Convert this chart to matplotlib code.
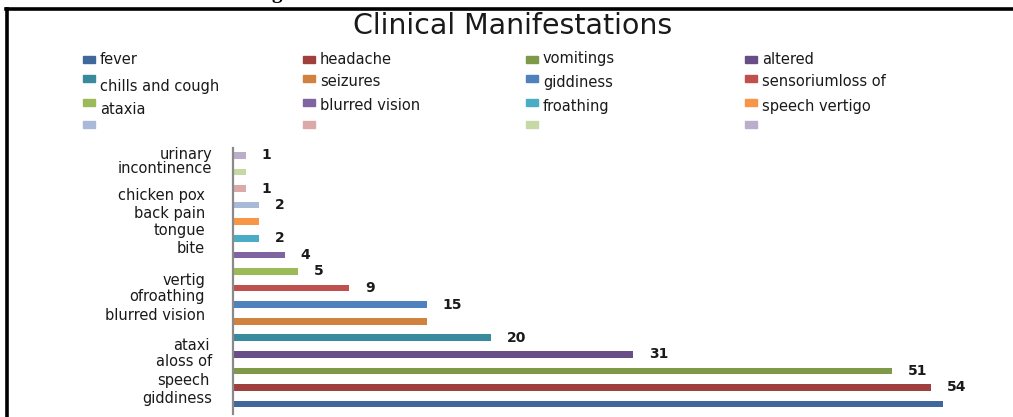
import matplotlib.pyplot as plt
from matplotlib.lines import Line2D
from matplotlib.patches import Rectangle

# symptom counts, bottom bar first
symptoms = ['fever', 'headache', 'vomitings', 'altered', 'chills and cough', 'seizures',
            'giddiness', 'sensoriumloss of', 'ataxia', 'blurred vision', 'froathing',
            'speech vertigo', '', '', '', '']
counts = [55, 54, 51, 31, 20, 15, 15, 9, 5, 4, 2, 2, 2, 1, 1, 1]
show_count = [False, True, True, True, True, False, True, True, True, True, True,
              False, True, True, False, True]
colors = ['#41689C', '#A0403E', '#7E9A48', '#674E86', '#3A8A9E', '#D1823E',
          '#4F81BD', '#C0504D', '#9BBB59', '#8064A2', '#4BACC6', '#F79646',
          '#A9B9D8', '#DBA9A8', '#C5D8A6', '#B9AECB']

# stray axis text down the left side
side_text = ['urinary', 'incontinence', 'chicken pox', 'back pain', 'tongue', 'bite',
             'vertig', 'ofroathing', 'blurred vision', 'ataxi', 'aloss of', 'speech',
             'giddiness']

W, H = 1013, 417
TXT = '#1a1a1a'


def px(x, y):
    return x / W, 1 - y / H


fig = plt.figure(figsize=(W / 100, H / 100), dpi=100)

# frame lines
fig.add_artist(Line2D([px(7, 0)[0], px(7, 0)[0]], [px(0, 9)[1], 0], color='black', lw=2.6))
fig.add_artist(Line2D([px(6, 0)[0], 1], [px(0, 9)[1]] * 2, color='black', lw=2.6))
fig.text(*px(271, -2), 'g', fontsize=15, fontweight='bold', family='Liberation Serif',
         va='baseline', ha='left', color='black')

fig.text(*px(513, 26), 'Clinical Manifestations', fontsize=20.5, ha='center', va='center',
         color=TXT, family='DejaVu Sans')

# legend, row by row
col_x = [83, 303, 526, 745]
mark_y = [59, 78, 102, 124]
text_y = [[59, 59, 59, 59], [86, 82, 82, 82], [110, 106, 106, 106]]
for i, (name, c) in enumerate(zip(symptoms, colors)):
    r, k = divmod(i, 4)
    x0, y0 = px(col_x[k], mark_y[r] + 3.5)
    fig.add_artist(Rectangle((x0, y0), 12 / W, 7 / H, color=c, transform=fig.transFigure))
    if name:
        fig.text(*px(col_x[k] + 17, text_y[r][k]), name, fontsize=10.5, color=TXT,
                 va='center', ha='left')

ax = fig.add_axes([233 / W, 1 - 414 / H, 775 / W, 266 / H])
pos = range(len(counts))
ax.barh(pos, counts, height=0.4, color=colors)
for p, v, s in zip(pos, counts, show_count):
    if s:
        ax.annotate(str(v), (v, p), xytext=(16, 0), textcoords='offset pixels',
                    va='center', ha='left', fontsize=10, fontweight='bold', color=TXT)

ax.set_xlim(0, 60)
ax.set_ylim(-0.6, 15.45)
for side in ['top', 'right', 'bottom']:
    ax.spines[side].set_visible(False)
ax.spines['left'].set_color('#8a8a8a')
ax.spines['left'].set_linewidth(1.6)
ax.set_xticks([])
ax.set_yticks([])

side_xy = [(212, 155), (212, 169), (205, 196), (205, 213), (205, 231), (205, 249),
           (205, 280), (205, 297), (205, 316), (210, 345), (212, 362), (210, 380),
           (212, 398)]
for t, (x, y) in zip(side_text, side_xy):
    fig.text(*px(x, y), t, fontsize=10.5, color=TXT, ha='right', va='center')

fig.savefig('out.png', dpi=100, facecolor='white')
